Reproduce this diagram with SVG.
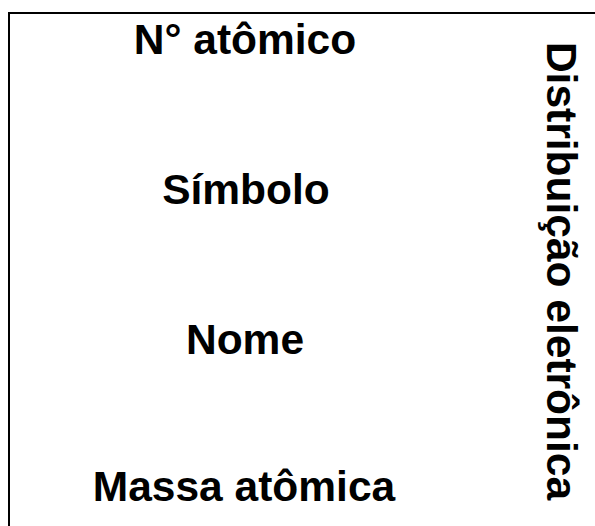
<svg xmlns="http://www.w3.org/2000/svg" width="595" height="526" viewBox="0 0 595 526">
<style>
.t{font-family:"Liberation Sans",Arial,sans-serif;font-weight:bold;font-size:42.5px;fill:#000;text-anchor:middle}
</style>
<rect x="0" y="0" width="595" height="526" fill="#fff"/>
<rect x="9" y="13" width="600" height="530" fill="none" stroke="#000" stroke-width="2"/>
<g id="numero"><text class="t" x="245" y="54">N° atômico</text></g>
<g id="simbolo"><text class="t" x="246" y="204">Símbolo</text></g>
<g id="nome"><text class="t" x="245" y="354">Nome</text></g>
<g id="massa"><text class="t" x="244" y="501">Massa atômica</text></g>
<g id="distribuicao"><text class="t" transform="translate(547,271) rotate(90)" x="0" y="0">Distribuição eletrônica</text></g>
</svg>
